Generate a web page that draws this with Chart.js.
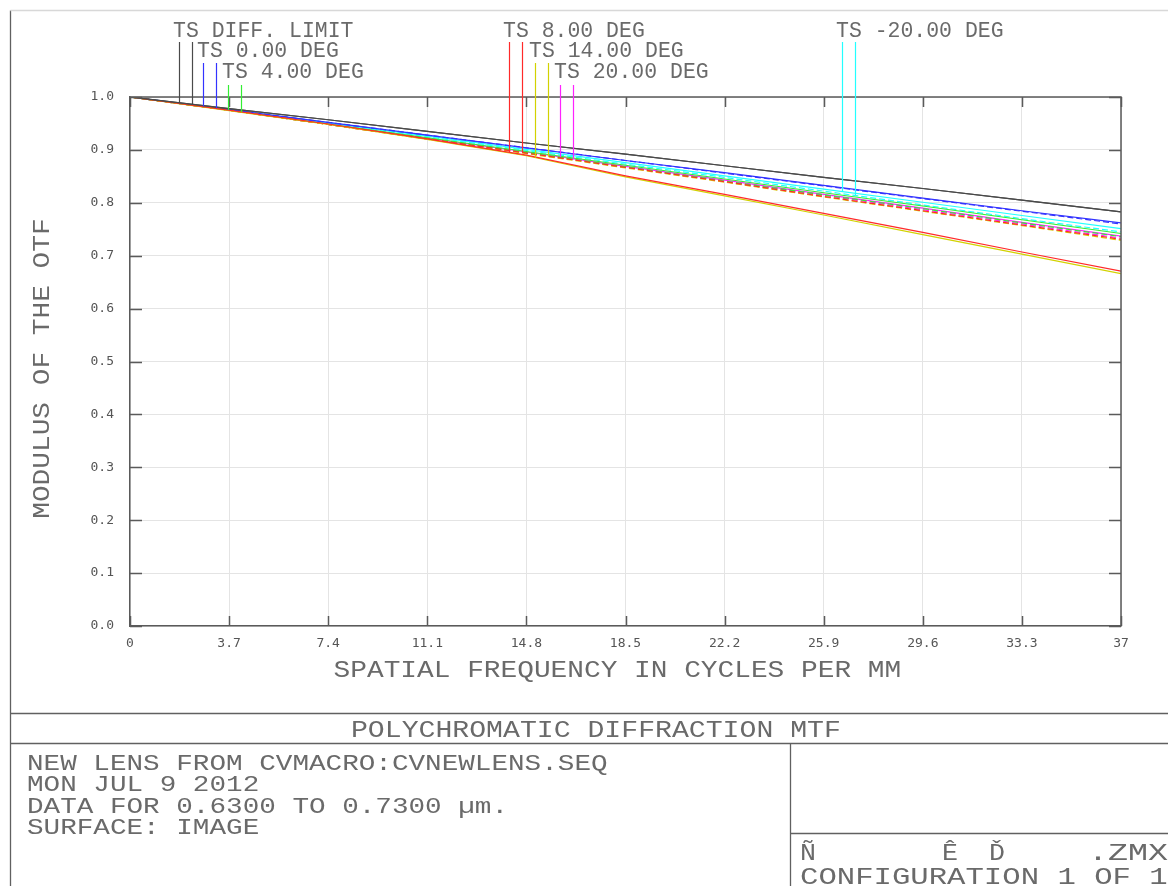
<!DOCTYPE html>
<html><head><meta charset="utf-8">
<script src="https://cdn.jsdelivr.net/npm/chart.js@4/dist/chart.umd.min.js"></script>
<style>html,body{margin:0;padding:0;background:#fff;overflow:hidden}canvas{display:block}</style>
</head><body><canvas id="c" width="1168" height="886"></canvas>
<script>
// ---------- data ----------
const frequencies = [0, 3.7, 7.4, 11.1, 14.8, 18.5, 22.2, 25.9, 29.6, 33.3, 37];
const xTickValues = [0, 3.7, 7.4, 11.1, 14.8, 18.5, 22.2, 25.9, 29.6, 33.3, 37];
const xTickLabels = ['0', '3.7', '7.4', '11.1', '14.8', '18.5', '22.2', '25.9', '29.6', '33.3', '37'];
const yTickValues = [0, 0.1, 0.2, 0.3, 0.4, 0.5, 0.6, 0.7, 0.8, 0.9, 1.0];
const yTickLabels = ['0.0', '0.1', '0.2', '0.3', '0.4', '0.5', '0.6', '0.7', '0.8', '0.9', '1.0'];

const diffT  = [1, 0.978, 0.957, 0.935, 0.913, 0.892, 0.870, 0.848, 0.827, 0.805, 0.783];
const diffS  = [1, 0.978, 0.957, 0.935, 0.913, 0.892, 0.870, 0.848, 0.827, 0.805, 0.783];
const f0T    = [1, 0.976, 0.952, 0.928, 0.904, 0.880, 0.857, 0.833, 0.809, 0.785, 0.762];
const f0S    = [1, 0.976, 0.952, 0.928, 0.904, 0.880, 0.856, 0.832, 0.808, 0.784, 0.760];
const f4T    = [1, 0.975, 0.949, 0.923, 0.897, 0.871, 0.845, 0.819, 0.794, 0.768, 0.742];
const f4S    = [1, 0.975, 0.948, 0.922, 0.895, 0.868, 0.841, 0.815, 0.789, 0.762, 0.736];
const f8T    = [1, 0.975, 0.949, 0.921, 0.890, 0.851, 0.816, 0.780, 0.744, 0.707, 0.671];
const f8S    = [1, 0.975, 0.948, 0.921, 0.894, 0.867, 0.840, 0.812, 0.785, 0.758, 0.731];
const f14T   = [1, 0.974, 0.948, 0.920, 0.889, 0.849, 0.813, 0.777, 0.740, 0.703, 0.666];
const f14S   = [1, 0.975, 0.948, 0.920, 0.893, 0.866, 0.839, 0.811, 0.784, 0.757, 0.729];
const f20T   = [1, 0.975, 0.949, 0.922, 0.896, 0.869, 0.843, 0.816, 0.790, 0.763, 0.737];
const f20S   = [1, 0.975, 0.948, 0.921, 0.895, 0.868, 0.841, 0.814, 0.787, 0.760, 0.733];
const fm20T  = [1, 0.976, 0.951, 0.926, 0.901, 0.876, 0.851, 0.826, 0.801, 0.776, 0.751];
const fm20S  = [1, 0.975, 0.950, 0.925, 0.899, 0.873, 0.848, 0.822, 0.796, 0.770, 0.745];

const fieldNames  = ['TS DIFF. LIMIT', 'TS 0.00 DEG', 'TS 4.00 DEG', 'TS 8.00 DEG', 'TS 14.00 DEG', 'TS 20.00 DEG', 'TS -20.00 DEG'];
const fieldColors = ['#4a4a4a', '#3333ff', '#33ee33', '#ff2a2a', '#d2d200', '#ff22ff', '#22ffff'];
const fieldSeries = [[diffT, diffS], [f0T, f0S], [f4T, f4S], [f8T, f8S], [f14T, f14S], [f20T, f20S], [fm20T, fm20S]];
const drawRank = [7, 5, 4, 6, 6, 1, 3]; // higher = drawn later (on top)

const xAxisTitle = 'SPATIAL FREQUENCY IN CYCLES PER MM';
const yAxisTitle = 'MODULUS OF THE OTF';
const plotTitle = 'POLYCHROMATIC DIFFRACTION MTF';
const infoLines = ['NEW LENS FROM CVMACRO:CVNEWLENS.SEQ', 'MON JUL 9 2012', 'DATA FOR 0.6300 TO 0.7300 \u00b5m.', 'SURFACE: IMAGE'];
const fileParts = ['\u00d1', '\u00ca', '\u010e', '.ZMX'];
const configLine = 'CONFIGURATION 1 OF 1';

// ---------- layout (positions only) ----------
const legendSlots = [
  {x: 173, row: 0}, {x: 197, row: 1}, {x: 222, row: 2},
  {x: 503, row: 0}, {x: 529, row: 1}, {x: 554, row: 2},
  {x: 836, row: 0}
];
const rowBase = [36.5, 56.5, 78];
const rowLineTop = [42, 63, 85];
const LEG_PITCH = 12.9, LEG_CAP = 14.5;

const FONT = '"Liberation Mono", "DejaVu Sans Mono", monospace';
const TEXT_COLOR = '#6a6a6a';

function vtext(ctx, str, x, y, pitch, cap, align, rotate) {
  ctx.save();
  ctx.font = '100px ' + FONT;
  const capR = ctx.measureText('H').actualBoundingBoxAscent / 100 || 0.66;
  const adv = ctx.measureText('M').width / 100;
  const size = cap / capR;
  const sx = pitch / (adv * size);
  ctx.font = size + 'px ' + FONT;
  const w = str.length * pitch;
  let off = align === 'center' ? -w / 2 : align === 'right' ? -w : 0;
  ctx.translate(x, y);
  if (rotate) ctx.rotate(-Math.PI / 2);
  ctx.translate(off, 0);
  ctx.scale(sx, 1);
  ctx.fillStyle = TEXT_COLOR;
  ctx.textAlign = 'left';
  ctx.textBaseline = 'alphabetic';
  ctx.fillText(str, 0, 0);
  ctx.restore();
}

function interp(arr, f) {
  for (let i = 0; i < frequencies.length - 1; i++) {
    if (f >= frequencies[i] && f <= frequencies[i + 1]) {
      const t = (f - frequencies[i]) / (frequencies[i + 1] - frequencies[i]);
      return arr[i] + t * (arr[i + 1] - arr[i]);
    }
  }
  return arr[arr.length - 1];
}

// ---------- datasets ----------
const datasets = [];
fieldSeries.forEach((pair, fi) => {
  pair.forEach((vals, k) => {
    datasets.push({
      label: fieldNames[fi] + (k === 0 ? ' T' : ' S'),
      data: frequencies.map((f, i) => ({x: f, y: vals[i]})),
      borderColor: fieldColors[fi],
      borderWidth: 1.2,
      borderDash: (k === 1 && fi > 0) ? [6, 3] : [],
      pointRadius: 0,
      tension: 0,
      fill: false,
      order: 20 - drawRank[fi] * 2 - (k === 0 ? 1 : 0)
    });
  });
});

const decor = {
  id: 'decor',
  afterDraw(chart) {
    const ctx = chart.ctx;
    const a = chart.chartArea;
    const xs = chart.scales.x, ys = chart.scales.y;
    ctx.save();
    // plot top/right border
    ctx.strokeStyle = '#5a5a5a';
    ctx.lineWidth = 1.5;
    ctx.beginPath();
    ctx.moveTo(a.left, a.top); ctx.lineTo(a.right, a.top); ctx.lineTo(a.right, a.bottom);
    ctx.stroke();
    // inner ticks
    ctx.beginPath();
    xTickValues.forEach(v => {
      const px = Math.round(xs.getPixelForValue(v)) + 0.5;
      ctx.moveTo(px, a.top); ctx.lineTo(px, a.top + 10);
      ctx.moveTo(px, a.bottom); ctx.lineTo(px, a.bottom - 10);
    });
    yTickValues.forEach(v => {
      const py = Math.round(ys.getPixelForValue(v)) + 0.5;
      ctx.moveTo(a.left, py); ctx.lineTo(a.left + 12, py);
      ctx.moveTo(a.right, py); ctx.lineTo(a.right - 12, py);
    });
    ctx.stroke();

    // legend
    legendSlots.forEach((s, fi) => {
      vtext(ctx, fieldNames[fi], s.x, rowBase[s.row], LEG_PITCH, LEG_CAP, 'left');
      ctx.strokeStyle = fieldColors[fi];
      ctx.lineWidth = 1.2;
      ctx.setLineDash([]);
      [0, 1].forEach(k => {
        const px = Math.round(s.x + (k + 0.5) * LEG_PITCH) + 0.5;
        const f = xs.getValueForPixel(px);
        const py = ys.getPixelForValue(interp(fieldSeries[fi][k], f));
        ctx.beginPath();
        ctx.moveTo(px, rowLineTop[s.row]);
        ctx.lineTo(px, py);
        ctx.stroke();
      });
    });

    // axis titles
    vtext(ctx, xAxisTitle, (a.left + a.right) / 2 - 8, 677, 16.7, 15.5, 'center');
    vtext(ctx, yAxisTitle, 49, (a.top + a.bottom) / 2 + 7, 16.7, 15.5, 'center', true);

    // page frame and info boxes
    ctx.strokeStyle = '#606060';
    ctx.lineWidth = 1.3;
    ctx.beginPath();
    ctx.moveTo(10.5, 886); ctx.lineTo(10.5, 10.5);
    ctx.stroke();
    ctx.strokeStyle = '#d8d8d8';
    ctx.beginPath();
    ctx.moveTo(10.5, 10.5); ctx.lineTo(1168, 10.5);
    ctx.stroke();
    ctx.strokeStyle = '#606060';
    ctx.beginPath();
    ctx.moveTo(10, 713.5); ctx.lineTo(1168, 713.5);
    ctx.moveTo(10, 743.5); ctx.lineTo(1168, 743.5);
    ctx.moveTo(790.5, 743.5); ctx.lineTo(790.5, 886);
    ctx.moveTo(790.5, 833.5); ctx.lineTo(1168, 833.5);
    ctx.stroke();

    vtext(ctx, plotTitle, 596, 737, 16.9, 15.5, 'center');
    infoLines.forEach((t, i) => vtext(ctx, t, 27, 770 + i * 21.3, 16.6, 14.5, 'left'));
    vtext(ctx, fileParts[0], 800, 860, 16, 16, 'left');
    vtext(ctx, fileParts[1], 942, 860, 16, 16, 'left');
    vtext(ctx, fileParts[2], 989, 860, 16, 16, 'left');
    vtext(ctx, fileParts[3], 1168, 860, 20, 16.5, 'right');
    vtext(ctx, configLine, 800, 884, 18.4, 16.5, 'left');
    ctx.restore();
  }
};

new Chart(document.getElementById('c'), {
  type: 'line',
  data: {datasets},
  options: {
    responsive: false,
    animation: false,
    devicePixelRatio: 1,
    layout: {padding: {left: 0, top: 97, right: 47, bottom: 220}},
    plugins: {legend: {display: false}, tooltip: {enabled: false}, title: {display: false}},
    scales: {
      x: {
        type: 'linear', min: 0, max: 37,
        afterBuildTicks: s => { s.ticks = xTickValues.map(v => ({value: v})); },
        afterFit: s => { s.height = 40; },
        ticks: {
          autoSkip: false, maxRotation: 0, padding: 10,
          color: '#555', font: {family: 'DejaVu Sans Mono', size: 13},
          callback: (v, i) => xTickLabels[i]
        },
        grid: {color: '#e4e4e4', lineWidth: 1, drawTicks: false},
        border: {display: true, color: '#5a5a5a', width: 1.5}
      },
      y: {
        type: 'linear', min: 0, max: 1,
        afterBuildTicks: s => { s.ticks = yTickValues.map(v => ({value: v})); },
        afterFit: s => { s.width = 130; },
        ticks: {
          autoSkip: false, padding: 16,
          color: '#555', font: {family: 'DejaVu Sans Mono', size: 13},
          callback: (v, i) => yTickLabels[i]
        },
        grid: {color: '#e4e4e4', lineWidth: 1, drawTicks: false},
        border: {display: true, color: '#5a5a5a', width: 1.5}
      }
    }
  },
  plugins: [decor]
});
</script>
</body></html>
